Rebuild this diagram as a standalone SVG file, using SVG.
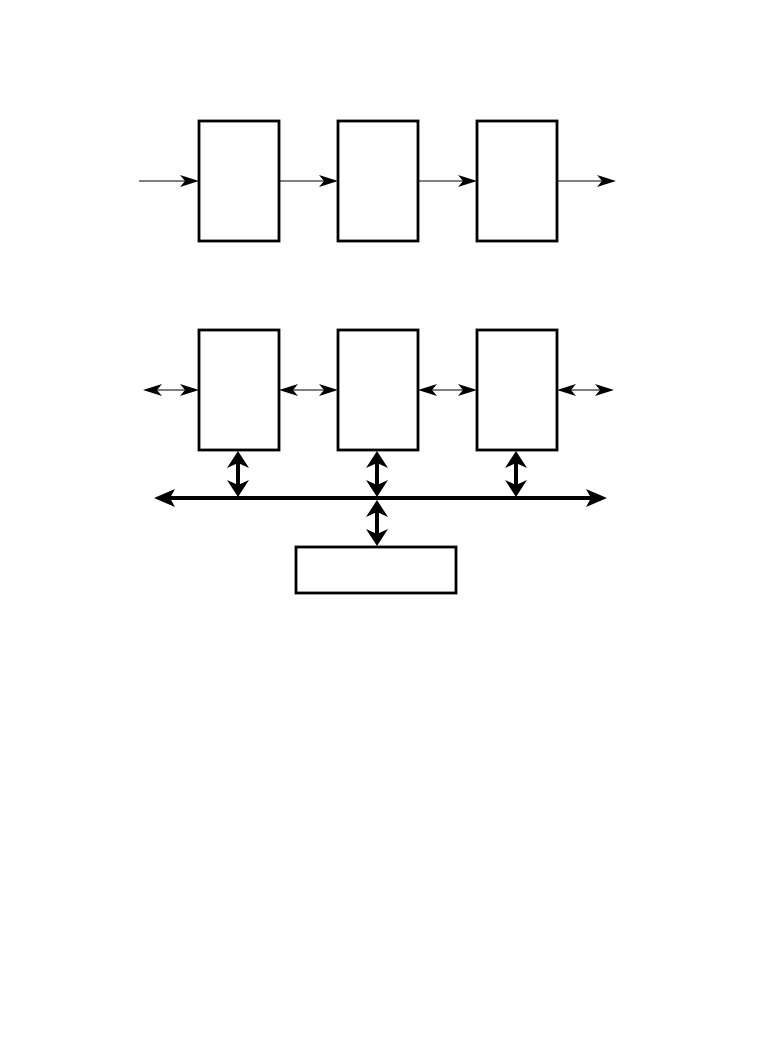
<svg xmlns="http://www.w3.org/2000/svg" width="783" height="1053" viewBox="0 0 783 1053">
<style>
.box{fill:#fff;stroke:#000;stroke-width:2.8}
.thin{stroke:#000;stroke-width:1.2;fill:none}
.thick{stroke:#000;stroke-width:4;fill:none}
</style>
<defs>
<marker id="ah" markerUnits="userSpaceOnUse" markerWidth="20" markerHeight="12" refX="16" refY="6" orient="auto-start-reverse" overflow="visible">
<path d="M0,0 L19,6 L0,12 L5,6 z" fill="#000"/>
</marker>
<marker id="ahT" markerUnits="userSpaceOnUse" markerWidth="18" markerHeight="22" refX="10" refY="11" orient="auto-start-reverse" overflow="visible">
<path d="M0,0 L17,11 L0,22 L5,11 z" fill="#000"/>
</marker>
<marker id="ahB" markerUnits="userSpaceOnUse" markerWidth="22" markerHeight="18" refX="14" refY="9" orient="auto-start-reverse" overflow="visible">
<path d="M0,0 L21,9 L0,18 L5,9 z" fill="#000"/>
</marker>
</defs>
<g id="connectors">
<line class="thin" x1="139" y1="181" x2="196" y2="181" marker-end="url(#ah)"/>
<line class="thin" x1="279" y1="181" x2="335" y2="181" marker-end="url(#ah)"/>
<line class="thin" x1="418" y1="181" x2="474" y2="181" marker-end="url(#ah)"/>
<line class="thin" x1="557" y1="181" x2="613" y2="181" marker-end="url(#ah)"/>
<line class="thin" x1="146" y1="390" x2="196" y2="390" marker-start="url(#ah)" marker-end="url(#ah)"/>
<line class="thin" x1="282" y1="390" x2="335" y2="390" marker-start="url(#ah)" marker-end="url(#ah)"/>
<line class="thin" x1="421" y1="390" x2="474" y2="390" marker-start="url(#ah)" marker-end="url(#ah)"/>
<line class="thin" x1="560" y1="390" x2="611" y2="390" marker-start="url(#ah)" marker-end="url(#ah)"/>
<line class="thick" x1="161" y1="498" x2="600" y2="498" marker-start="url(#ahB)" marker-end="url(#ahB)"/>
<line class="thick" x1="238" y1="458" x2="238" y2="490" marker-start="url(#ahT)" marker-end="url(#ahT)"/>
<line class="thick" x1="377" y1="458" x2="377" y2="490" marker-start="url(#ahT)" marker-end="url(#ahT)"/>
<line class="thick" x1="516" y1="458" x2="516" y2="490" marker-start="url(#ahT)" marker-end="url(#ahT)"/>
<line class="thick" x1="377" y1="507" x2="377" y2="539" marker-start="url(#ahT)" marker-end="url(#ahT)"/>
</g>
<g id="n1"><rect class="box" x="199" y="121" width="80" height="120"/></g>
<g id="n2"><rect class="box" x="338" y="121" width="80" height="120"/></g>
<g id="n3"><rect class="box" x="477" y="121" width="80" height="120"/></g>
<g id="n4"><rect class="box" x="199" y="330" width="80" height="120"/></g>
<g id="n5"><rect class="box" x="338" y="330" width="80" height="120"/></g>
<g id="n6"><rect class="box" x="477" y="330" width="80" height="120"/></g>
<g id="n7"><rect class="box" x="296" y="547" width="160" height="46"/></g>
</svg>
